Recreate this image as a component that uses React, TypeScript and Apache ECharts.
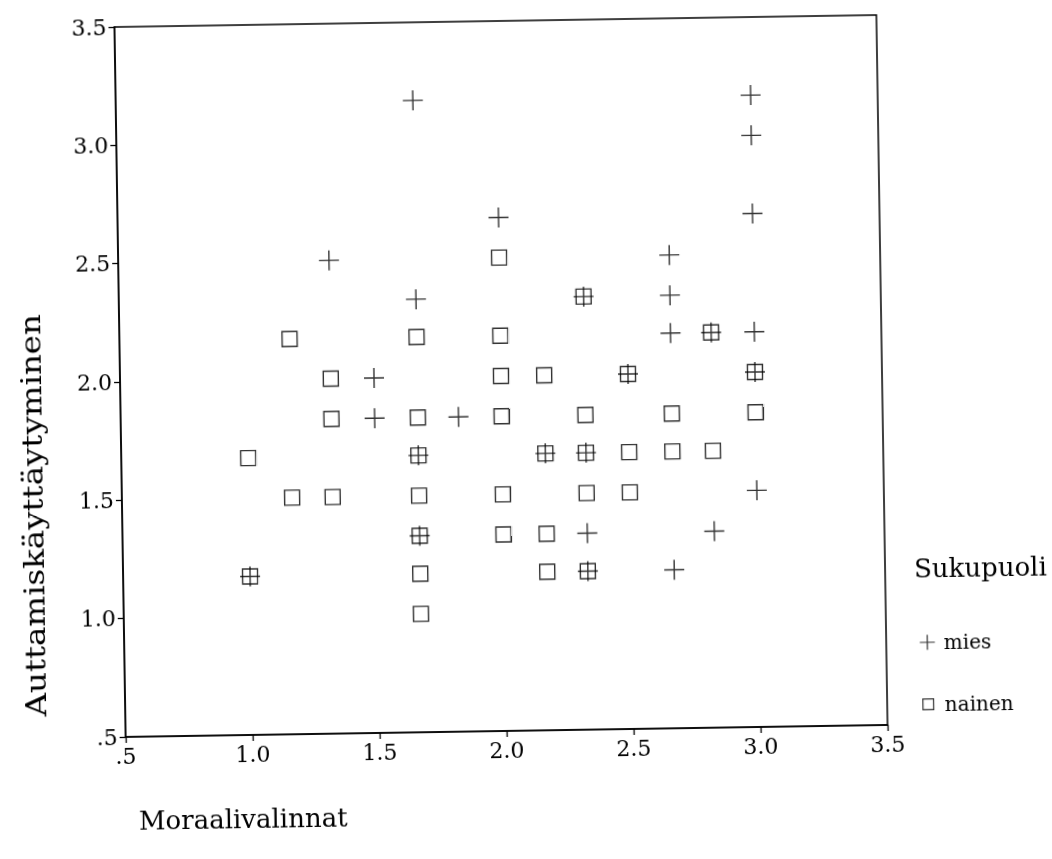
import React, { useEffect, useRef } from 'react';
import * as echarts from 'echarts';

// ---- data ----
const axisTicks = [0.5, 1.0, 1.5, 2.0, 2.5, 3.0, 3.5];
const tickLabels = ['.5', '1.0', '1.5', '2.0', '2.5', '3.0', '3.5'];

const xTitle = 'Moraalivalinnat';
const yTitle = 'Auttamiskäyttäytyminen';
const legendTitle = 'Sukupuoli';
const groupNames = ['mies', 'nainen'];

// mies (+)
const miesX = [1.67, 3.0, 3.0, 3.0, 2.0, 1.33, 1.67, 2.67, 2.67, 2.67, 3.0, 1.5, 1.5, 1.83, 3.0, 2.33, 2.83, 2.67,
  1.0, 1.67, 1.67, 2.33, 2.5, 3.0, 2.17, 2.33, 2.33, 2.83];
const miesY = [3.17, 3.17, 3.0, 2.67, 2.67, 2.5, 2.33, 2.5, 2.33, 2.17, 2.17, 2.0, 1.83, 1.83, 1.5, 1.33, 1.33, 1.17,
  1.17, 1.67, 1.33, 2.33, 2.0, 2.0, 1.67, 1.67, 1.17, 2.17];

// nainen (square)
const nainenX = [1.17, 1.33, 1.33, 1.0, 1.17, 1.33, 1.67, 1.67, 1.67, 1.67, 1.67, 2.0, 2.0, 2.0, 2.0, 2.0, 2.0,
  2.17, 2.17, 2.17, 2.33, 2.33, 2.5, 2.5, 2.67, 2.67, 2.83, 3.0,
  1.0, 1.67, 1.67, 2.33, 2.5, 3.0, 2.17, 2.33, 2.33, 2.83];
const nainenY = [2.17, 2.0, 1.83, 1.67, 1.5, 1.5, 2.17, 1.83, 1.5, 1.17, 1.0, 2.5, 2.17, 2.0, 1.83, 1.5, 1.33,
  2.0, 1.33, 1.17, 1.83, 1.5, 1.67, 1.5, 1.83, 1.67, 1.67, 1.83,
  1.17, 1.67, 1.33, 2.33, 2.0, 2.0, 1.67, 1.67, 1.17, 2.17];

const FONT = '"DejaVu Serif", "Liberation Serif", serif';
const plusPath = 'path://M0,10L20,10M10,0L10,20';
const plusLegend = 'path://M0,7L14,7M7,0L7,14';
const squareLegend = 'path://M0,0M14,14M2,2L12,2L12,12L2,12Z';

export default function App() {
  const ref = useRef<HTMLDivElement>(null);
  useEffect(() => {
    if (!ref.current) return;
    const chart = echarts.init(ref.current, undefined, { renderer: 'svg' });
    const pts = (xs: number[], ys: number[]) => xs.map((x, i) => [x, ys[i]]);
    const fmt = (v: number) => {
      const i = axisTicks.findIndex((t) => Math.abs(t - v) < 1e-6);
      return i >= 0 ? tickLabels[i] : '';
    };
    const axisCommon = {
      type: 'value' as const,
      min: axisTicks[0],
      max: axisTicks[axisTicks.length - 1],
      interval: 0.5,
      splitLine: { show: false },
      axisLine: { show: true, lineStyle: { color: '#000', width: 1.5 } },
      axisTick: { show: true, inside: false, length: 6, lineStyle: { color: '#000', width: 1.3 } },
      axisLabel: {
        formatter: fmt,
        color: '#000',
        fontFamily: FONT,
        fontSize: 22,
        showMinLabel: true,
        showMaxLabel: true,
      },
    };
    const ink = { color: 'rgba(0,0,0,0)', borderColor: '#000', borderWidth: 1.4 };
    chart.setOption({
      animation: false,
      backgroundColor: '#fff',
      grid: {
        left: 120,
        top: 21,
        width: 762,
        height: 710,
        show: true,
        borderColor: '#000',
        borderWidth: 1.5,
        backgroundColor: 'transparent',
      },
      xAxis: { ...axisCommon, axisLabel: { ...axisCommon.axisLabel, margin: 8 } },
      yAxis: { ...axisCommon, axisLabel: { ...axisCommon.axisLabel, margin: 8 } },
      legend: {
        orient: 'vertical',
        left: 910,
        top: 634,
        itemGap: 42,
        itemWidth: 15,
        itemHeight: 15,
        textStyle: { fontFamily: FONT, fontSize: 20, color: '#000', padding: [0, 0, 0, 4] },
        data: [
          { name: groupNames[0], icon: plusLegend, itemStyle: { ...ink, borderWidth: 1.2 } },
          { name: groupNames[1], icon: squareLegend, itemStyle: { ...ink, borderWidth: 1.2 } },
        ],
      },
      graphic: [
        {
          type: 'text',
          x: 31,
          y: 508,
          rotation: Math.PI / 2,
          scaleX: 1.16,
          style: { text: yTitle, fontFamily: FONT, fontSize: 28, fill: '#000', align: 'center', verticalAlign: 'middle' },
        },
        {
          type: 'text',
          x: 132,
          y: 815,
          style: { text: xTitle, fontFamily: FONT, fontSize: 26, fill: '#000', align: 'left', verticalAlign: 'middle' },
        },
        {
          type: 'text',
          x: 911,
          y: 575,
          style: { text: legendTitle, fontFamily: FONT, fontSize: 26, fill: '#000', align: 'left', verticalAlign: 'middle' },
        },
      ],
      series: [
        {
          name: groupNames[0],
          type: 'scatter',
          symbol: plusPath,
          symbolSize: 20,
          itemStyle: ink,
          data: pts(miesX, miesY),
          z: 3,
        },
        {
          name: groupNames[1],
          type: 'scatter',
          symbol: 'rect',
          symbolSize: 15,
          itemStyle: ink,
          data: pts(nainenX, nainenY),
          z: 2,
        },
      ],
    });
    return () => chart.dispose();
  }, []);
  return (
    <div
      ref={ref}
      style={{
        position: 'fixed',
        left: 0,
        top: 0,
        width: 1052,
        height: 859,
        background: '#fff',
        transformOrigin: '500px 376px',
        transform: 'rotate(-0.9deg)',
      }}
    />
  );
}
